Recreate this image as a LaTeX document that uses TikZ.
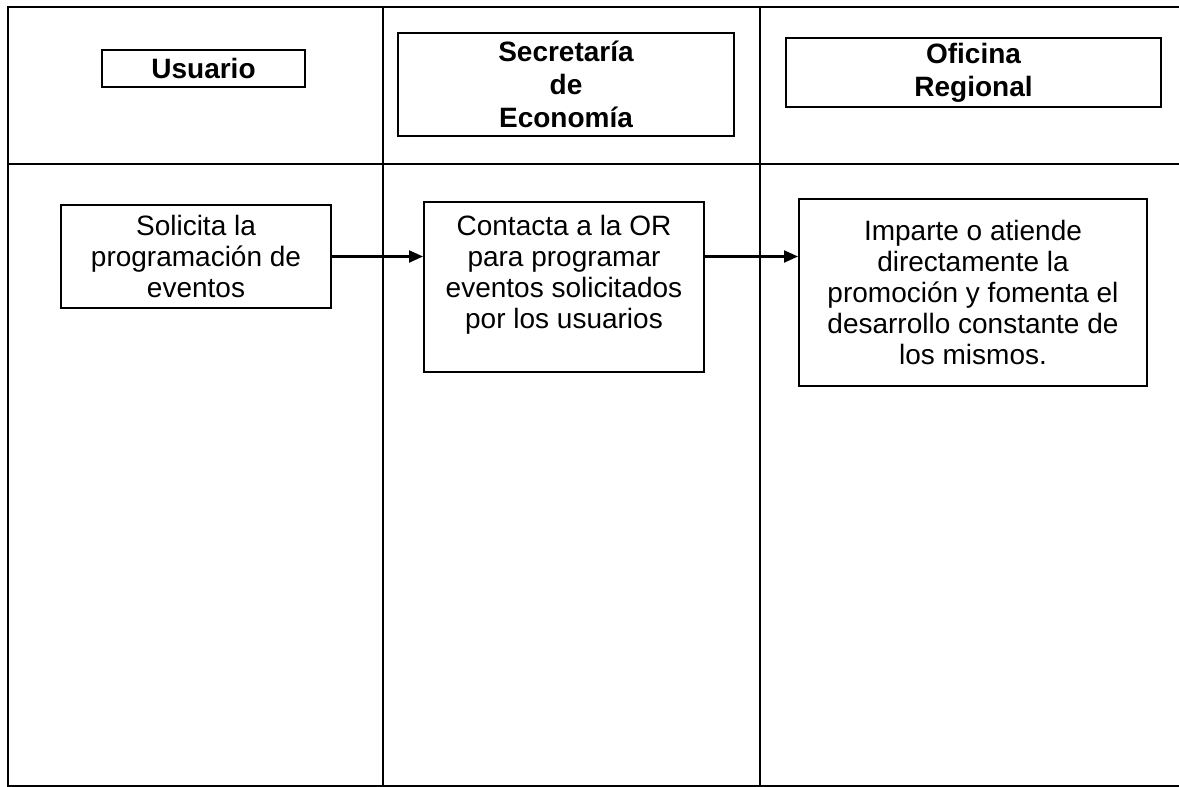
\documentclass[tikz,border=0pt]{standalone}
\usepackage{fontspec}
\setmainfont{Liberation Sans}
\usetikzlibrary{arrows.meta}
\begin{document}
\begin{tikzpicture}[x=1pt,y=-1pt,
  frame/.style={line width=2.2pt},
  lane/.style={line width=1.3pt},
  headbox/.style={draw,line width=2pt,inner sep=0pt,align=center,
    font=\bfseries\fontsize{28}{33}\selectfont},
  bodybox/.style={draw,line width=2pt,inner sep=0pt,align=center,
    font=\fontsize{28}{31}\selectfont},
  flow/.style={line width=2.2pt,-{Triangle[length=14pt,width=12pt]}}]
\useasboundingbox (0,0) rectangle (1179,787);
% lanes
\coordinate (tl) at (8,7);
\coordinate (tr) at (1179,7);
\coordinate (bl) at (8,786);
\coordinate (br) at (1179,786);
\coordinate (ml) at (8,164);
\coordinate (mr) at (1179,164);
\coordinate (v1t) at (383,7);
\coordinate (v1b) at (383,786);
\coordinate (v2t) at (760,7);
\coordinate (v2b) at (760,786);
\draw[frame] (tr) -- (tl) -- (bl) -- (br);
\draw[frame] (ml) -- (mr);
\draw[lane] (v1t) -- (v1b);
\draw[lane] (v2t) -- (v2b);
% headers
\node[headbox,minimum width=203pt,minimum height=37pt] (usu) at (203.5,68.5) {Usuario};
\node[headbox,minimum width=336pt,minimum height=103pt] (sec) at (566,84.5) {Secretaría\\de\\Economía};
\node[headbox,minimum width=375pt,minimum height=69pt] (ofi) at (973.5,72.5) {Oficina\\Regional};
% process boxes
\node[bodybox,minimum width=270pt,minimum height=103pt] (sol) at (196,256.5) {Solicita la\\programación de\\eventos};
\node[bodybox] (con) at (564,286.5) {\parbox[c][170pt][t]{280pt}{\centering\vspace*{14pt}Contacta a la OR\\para programar\\eventos solicitados\\por los usuarios}};
\node[bodybox,minimum width=348pt,minimum height=187pt] (imp) at (973,292.5) {Imparte o atiende\\directamente la\\promoción y fomenta el\\desarrollo constante de\\los mismos.};
% arrows
\draw[flow] (sol.east) -- (con.west |- sol.east);
\draw[flow] (con.east |- sol.east) -- (imp.west |- sol.east);
\end{tikzpicture}
\end{document}
